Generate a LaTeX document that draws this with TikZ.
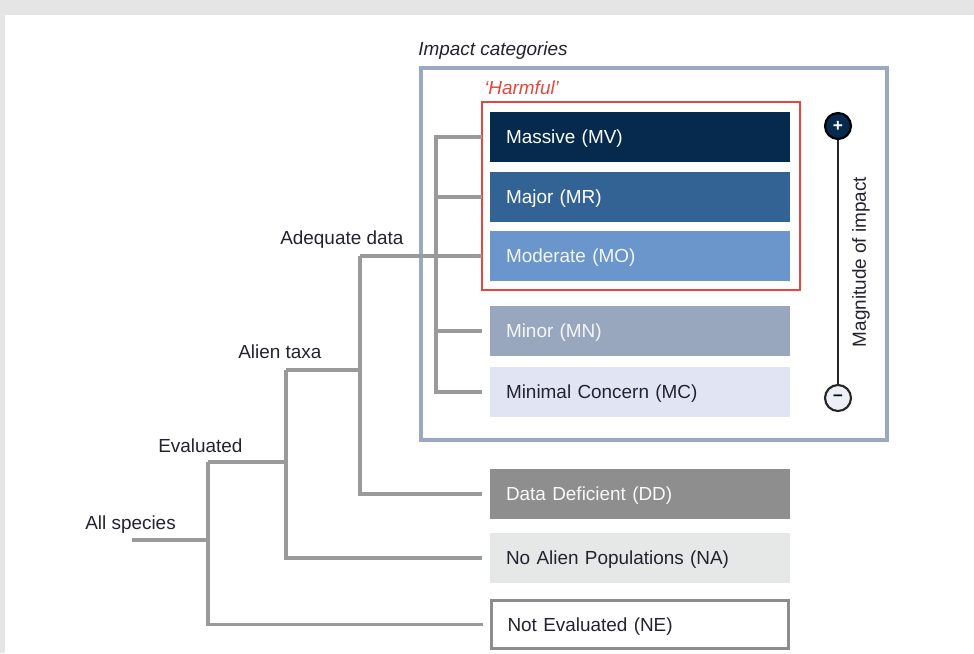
\documentclass[tikz,border=0pt]{standalone}
\usepackage{fontspec}
\setmainfont{Liberation Sans}
\definecolor{cMV}{HTML}{052A4D}
\definecolor{cMR}{HTML}{326394}
\definecolor{cMO}{HTML}{6A96CC}
\definecolor{cMN}{HTML}{98A6BE}
\definecolor{cMC}{HTML}{E1E5F3}
\definecolor{cDD}{HTML}{8E8E8E}
\definecolor{cNA}{HTML}{E6E7E7}
\definecolor{cNE}{HTML}{8C8C8C}
\definecolor{outerc}{HTML}{9BA9C0}
\definecolor{redc}{HTML}{E5463D}
\definecolor{treec}{HTML}{9A9A9A}
\definecolor{txtc}{HTML}{23232F}
\definecolor{bgc}{HTML}{E5E5E5}
\begin{document}
\begin{tikzpicture}[x=0.75pt,y=-0.75pt,
  every node/.style={font=\fontsize{14.2}{16}\selectfont},
  catbox/.style={anchor=north west,minimum width=225pt,minimum height=37.5pt,outer sep=0pt,
    text width=201pt,align=left,inner xsep=12pt,inner ysep=0pt,text depth=0pt,text height=1.02em},
  branch/.style={draw=treec,line width=2.3pt},
  lbl/.style={anchor=west,inner sep=0pt,text=txtc}]
\useasboundingbox (0,0) rectangle (974,653);
\fill[bgc] (0,0) rectangle (974,653);
\fill[white] (5,15) rectangle (974,653);
% outer impact box
\draw[outerc,line width=3pt] (421,68) rectangle (887,440);
\node[lbl,font=\fontsize{14.2}{16}\selectfont\itshape] (impact) at (418,51) {Impact categories};
% harmful box
\draw[redc,line width=1.2pt] (482,102) rectangle (800,290);
\node[lbl,text=redc,font=\fontsize{14.2}{16}\selectfont\itshape] (harmful) at (484,88) {‘Harmful’};
% category boxes
\node[catbox,fill=cMV,text=white] (MV) at (490,112) {Massive (MV)};
\node[catbox,fill=cMR,text=white] (MR) at (490,172) {Major (MR)};
\node[catbox,fill=cMO,text={white!92!cMO}] (MO) at (490,231) {Moderate (MO)};
\node[catbox,fill=cMN,text={white!90!cMN}] (MN) at (490,306) {Minor (MN)};
\node[catbox,fill=cMC,text=txtc] (MC) at (490,367) {Minimal Concern (MC)};
\node[catbox,fill=cDD,text={white!95!cDD}] (DD) at (490,469) {Data Deficient (DD)};
\node[catbox,fill=cNA,text=txtc] (NA) at (490,533) {No Alien Populations (NA)};
\node[catbox,draw=cNE,line width=2.2pt,fill=white,text=txtc,minimum width=222.75pt,minimum height=36pt,text width=198.75pt] (NE) at (491.5,600.5) {Not Evaluated (NE)};
% tree labels
\node[lbl] (allsp) at (85,525) {All species};
\node[lbl] (evalL) at (158,446) {Evaluated};
\node[lbl] (alienL) at (238,352) {Alien taxa};
\node[lbl] (adeqL) at (280,240) {Adequate data};
% junction coordinates
\coordinate (a0) at (132,540);
\coordinate (jE) at (208,540);
\coordinate (jA) at (286,462);
\coordinate (jD) at (360,370);
\coordinate (jI) at (436,256);
% branches
\draw[branch] (a0) -- (jE);
\draw[branch] (jE |- jA) -- (jA);
\draw[branch] (jE |- jA) -- (jE |- NE.west) -- ([xshift=-6.5pt]NE.west);
\draw[branch] (jA |- jD) -- (jD);
\draw[branch] (jA |- jD) -- (jA |- NA.west) -- ([xshift=-6pt]NA.west);
\draw[branch] (jD |- MO.west) -- ([xshift=-6pt]MO.west);
\draw[branch] (jD |- MO.west) -- (jD |- DD.west) -- ([xshift=-6pt]DD.west);
\draw[branch] ([xshift=-6pt]MV.west) -- (jI |- MV.west) -- (jI |- MC.west) -- ([xshift=-6pt]MC.west);
\draw[branch] (jI |- MR.west) -- ([xshift=-6pt]MR.west);
\draw[branch] (jI |- MN.west) -- ([xshift=-6pt]MN.west);
% magnitude scale
\node[circle,draw=black,line width=1.6pt,fill=cMV,minimum size=19.5pt,inner sep=0pt,text=white,font=\bfseries\fontsize{13}{13}\selectfont] (plus) at (838,126) {+};
\node[circle,draw=black!85,line width=1.6pt,fill=cMC!60!white,minimum size=19.5pt,inner sep=0pt,text=black,font=\bfseries\fontsize{13}{13}\selectfont] (minus) at (838,398) {–};
\draw[black!85,line width=1.5pt] (plus) -- (minus);
\node[rotate=90,text=txtc,inner sep=0pt] (mag) at (861,262) {Magnitude of impact};
\end{tikzpicture}
\end{document}
